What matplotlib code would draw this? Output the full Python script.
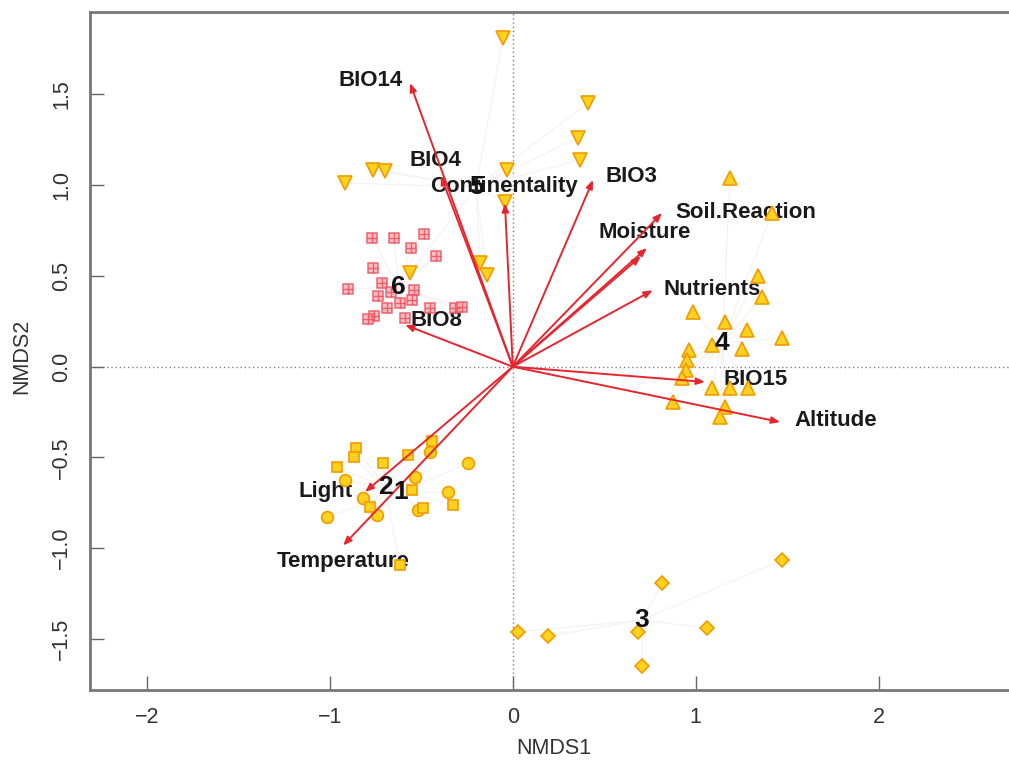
import matplotlib
matplotlib.use("Agg")
import matplotlib.pyplot as plt
import numpy as np

plt.rcParams['font.family'] = ['Liberation Sans', 'DejaVu Sans']

# --- site scores by group (NMDS1, NMDS2) ---
g1_x = [-0.453, -0.245, -0.535, -0.355, -0.918, -0.819, -0.742, -0.518, -1.016]
g1_y = [-0.470, -0.530, -0.607, -0.690, -0.624, -0.723, -0.817, -0.790, -0.828]

g2_x = [-0.857, -0.868, -0.961, -0.710, -0.573, -0.442, -0.551, -0.327, -0.491, -0.781, -0.617]
g2_y = [-0.450, -0.500, -0.555, -0.533, -0.489, -0.412, -0.680, -0.762, -0.779, -0.773, -1.092]

g3_x = [1.472, 0.816, 0.028, 0.193, 0.685, 1.062, 0.707]
g3_y = [-1.065, -1.192, -1.462, -1.484, -1.462, -1.440, -1.649]

g4_x = [1.188, 1.417, 1.341, 1.363, 0.985, 1.160, 1.281, 1.472, 1.089, 1.253,
        0.963, 0.952, 0.946, 0.925, 1.089, 1.188, 1.286, 0.876, 1.160, 1.133]
g4_y = [1.040, 0.847, 0.500, 0.384, 0.301, 0.246, 0.202, 0.158, 0.120, 0.098,
        0.092, 0.037, -0.018, -0.062, -0.117, -0.117, -0.117, -0.194, -0.222, -0.277]

g5_x = [-0.054, 0.411, 0.357, 0.367, -0.032, -0.043, -0.765, -0.699, -0.918, -0.179, -0.141, -0.562]
g5_y = [1.810, 1.452, 1.260, 1.139, 1.084, 0.908, 1.084, 1.078, 1.012, 0.571, 0.505, 0.516]

g6_x = [-0.770, -0.650, -0.486, -0.557, -0.420, -0.764, -0.901, -0.715, -0.737, -0.666,
        -0.540, -0.617, -0.759, -0.792, -0.688, -0.551, -0.316, -0.278, -0.589, -0.452]
g6_y = [0.709, 0.709, 0.731, 0.654, 0.610, 0.544, 0.428, 0.461, 0.390, 0.412,
        0.423, 0.351, 0.279, 0.263, 0.323, 0.367, 0.323, 0.329, 0.268, 0.323]

# group centroids (spider centres / labels)
group_names = ["1", "2", "3", "4", "5", "6"]
cent_x = [-0.611, -0.699, 0.707, 1.144, -0.201, -0.623]
cent_y = [-0.690, -0.663, -1.396, 0.131, 0.989, 0.439]

# --- fitted environmental vectors ---
env_names = ["BIO14", "BIO4", "Continentality", "BIO3", "Soil.Reaction", "Moisture", "",
             "Nutrients", "BIO15", "Altitude", "BIO8", "Light", "Temperature"]
env_x = [-0.562, -0.393, -0.043, 0.439, 0.816, 0.734, 0.700, 0.765, 1.051, 1.462, -0.589, -0.808, -0.928]
env_y = [1.563, 1.051, 0.901, 1.029, 0.847, 0.654, 0.608, 0.421, -0.084, -0.305, 0.230, -0.690, -0.985]
lab_x = [-0.780, -0.425, -0.048, 0.651, 1.274, 0.723, 0.0, 1.088, 1.325, 1.766, -0.415, -1.025, -0.928]
lab_y = [1.578, 1.138, 0.994, 1.050, 0.852, 0.737, 0.0, 0.423, -0.073, -0.299, 0.257, -0.690, -1.076]

W, H = 1009, 766
fig = plt.figure(figsize=(W / 100, H / 100), dpi=100)
ax_left, ax_right, ax_top, ax_bot = 90, 1015, 12, 690
ax = fig.add_axes([ax_left / W, 1 - ax_bot / H, (ax_right - ax_left) / W, (ax_bot - ax_top) / H])

x0, sx = 512.8, 182.9
y0, sy = 366.7, 181.5
ax.set_xlim((ax_left - x0) / sx, (ax_right - x0) / sx)
ax.set_ylim((y0 - ax_bot) / sy, (y0 - ax_top) / sy)

# reference lines through the origin
ax.axhline(0, color='#808080', lw=1.0, ls=(0, (1, 2)), zorder=1)
ax.axvline(0, color='#808080', lw=1.0, ls=(0, (1, 2)), zorder=1)

groups = [(g1_x, g1_y), (g2_x, g2_y), (g3_x, g3_y), (g4_x, g4_y), (g5_x, g5_y), (g6_x, g6_y)]

# spider lines from centroid to each site
for (gx, gy), cx, cy in zip(groups, cent_x, cent_y):
    for px, py in zip(gx, gy):
        ax.plot([cx, px], [cy, py], color='#f3f3f3', lw=0.9, zorder=1.5)

# env labels (under points)
for name, lx, ly in zip(env_names, lab_x, lab_y):
    if name:
        ax.text(lx, ly, name, ha='center', va='center', fontsize=16, fontweight='bold',
                color='#1a1a1a', zorder=2)

face, edge = '#FFD21F', '#F39A00'
ax.plot(g1_x, g1_y, 'o', ms=8.5, mfc=face, mec=edge, mew=1.2, ls='none', zorder=3)
ax.plot(g2_x, g2_y, 's', ms=7.5, mfc=face, mec=edge, mew=1.2, ls='none', zorder=3)
ax.plot(g3_x, g3_y, 'D', ms=7.5, mfc=face, mec=edge, mew=1.2, ls='none', zorder=3)
ax.plot(g4_x, g4_y, '^', ms=10, mfc=face, mec=edge, mew=1.2, ls='none', zorder=3)
ax.plot(g5_x, g5_y, 'v', ms=10, mfc=face, mec=edge, mew=1.2, ls='none', zorder=3)
ax.plot(g6_x, g6_y, 's', ms=7.5, mfc='#F7B3B8', mec='#EA4F5C', mew=1.1, ls='none', alpha=0.85, zorder=3)
ax.plot(g6_x, g6_y, '+', ms=7.5, mec='#EA4F5C', mew=1.0, ls='none', alpha=0.85, zorder=3)

# env arrows
for ex, ey in zip(env_x, env_y):
    ax.annotate('', xy=(ex, ey), xytext=(0, 0),
                arrowprops=dict(arrowstyle='-|>,head_length=0.5,head_width=0.2',
                                color='#E5262E', lw=1.4, shrinkA=0, shrinkB=0),
                zorder=4)

# group labels at centroids
for name, cx, cy in zip(group_names, cent_x, cent_y):
    ax.text(cx, cy, name, ha='center', va='center', fontsize=19, fontweight='bold',
            color='#111111', zorder=5)

ax.set_xticks([-2, -1, 0, 1, 2])
ax.set_yticks([-1.5, -1.0, -0.5, 0.0, 0.5, 1.0, 1.5])
ax.set_yticklabels(['\u22121.5', '\u22121.0', '\u22120.5', '0.0', '0.5', '1.0', '1.5'],
                   rotation=90, va='center')
ax.tick_params(direction='in', length=10, width=1.0, color='#666666',
               labelsize=15.5, labelcolor='#333333', pad=12)
ax.tick_params(axis='y', pad=13)

for side in ['left', 'bottom', 'top', 'right']:
    ax.spines[side].set_color('#777777')
    ax.spines[side].set_linewidth(2.0)

ax.set_xlabel('NMDS1', fontsize=15.5, color='#333333')
ax.set_ylabel('NMDS2', fontsize=15.5, color='#333333')
ax.xaxis.set_label_coords((554 - ax_left) / (ax_right - ax_left), -(748 - ax_bot) / (ax_bot - ax_top))
ax.yaxis.set_label_coords(-(ax_left - 22) / (ax_right - ax_left), (ax_bot - 356) / (ax_bot - ax_top))
ax.xaxis.label.set_va('center')
ax.yaxis.label.set_va('center')

fig.savefig('out.png', dpi=100)
